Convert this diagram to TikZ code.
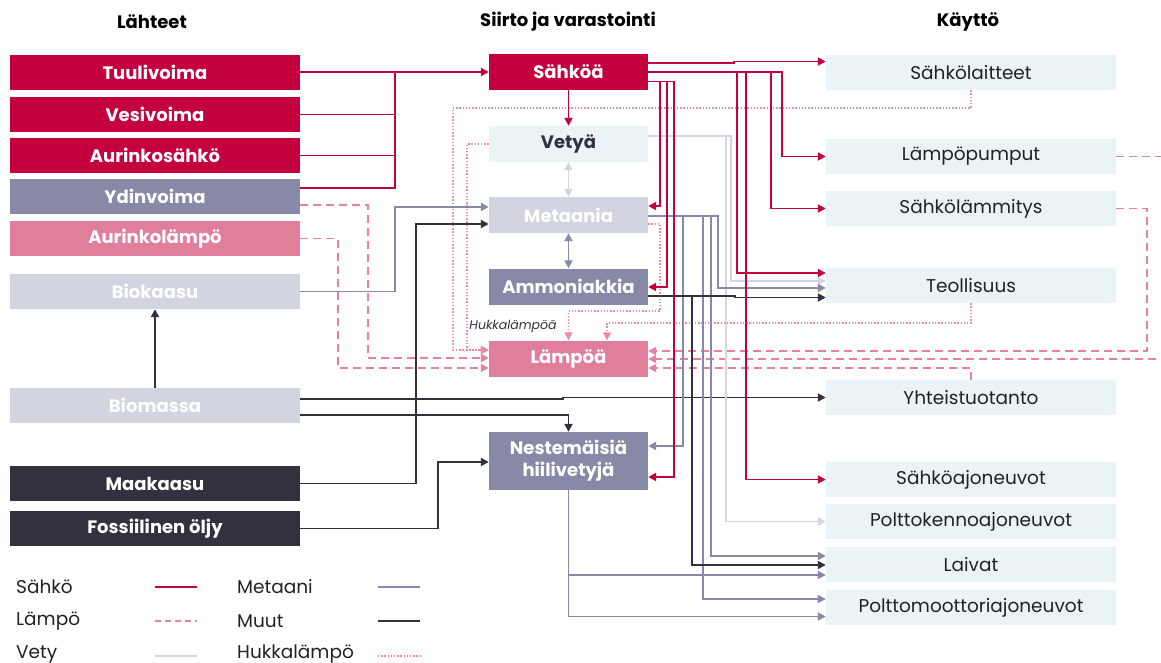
\documentclass[tikz,border=0pt]{standalone}
\usepackage{fontspec}
\setmainfont{Poppins}
\usetikzlibrary{arrows.meta}
\definecolor{crim}{HTML}{C5003E}
\definecolor{pinkbox}{HTML}{E07E9C}
\definecolor{pinkln}{HTML}{E8809F}
\definecolor{pinkw}{HTML}{EE8AA8}
\definecolor{meth}{HTML}{8789A6}
\definecolor{lgray}{HTML}{D2D4DF}
\definecolor{darkc}{HTML}{34303F}
\definecolor{lblue}{HTML}{EAF3F6}
\definecolor{txt}{HTML}{222222}
\begin{document}
\begin{tikzpicture}[x=1pt,y=-1pt,
  src/.style={rectangle,minimum width=290pt,minimum height=35pt,inner sep=0pt,text=white,font=\bfseries\fontsize{18}{21}\selectfont},
  mid/.style={rectangle,minimum width=159pt,minimum height=36pt,inner sep=0pt,text=white,font=\bfseries\fontsize{18}{21}\selectfont,align=center},
  usebox/.style={rectangle,fill=lblue,minimum width=290pt,minimum height=35pt,inner sep=0pt,text=txt,font=\fontsize{18.5}{21}\selectfont},
  hdr/.style={font=\bfseries\fontsize{18}{21}\selectfont,text=black},
  leg/.style={anchor=west,font=\fontsize{18.5}{21}\selectfont,text=txt,inner sep=0pt},
  tip/.style={-{Triangle[length=8pt,width=8pt]}},
  tips/.style={{Triangle[length=8pt,width=8pt]}-{Triangle[length=8pt,width=8pt]}},
  el/.style={draw=crim,line width=1.9pt},
  heat/.style={draw=pinkln,line width=1.9pt,dash pattern=on 8pt off 5pt},
  waste/.style={draw=pinkw,line width=1.6pt,dash pattern=on 1.4pt off 1.8pt},
  me/.style={draw=meth,line width=1.9pt},
  hy/.style={draw=lgray,line width=1.9pt},
  ot/.style={draw=darkc,line width=1.9pt},
]
\useasboundingbox (0,0) rectangle (1161,663);
\clip (0,0) rectangle (1161,663);

% headers
\node[hdr] (h1) at (152,22) {Lähteet};
\node[hdr] (h2) at (568,22) {Siirto ja varastointi};
\node[hdr] (h3) at (968,22) {Käyttö};

% sources
\node[src,fill=crim] (tuuli) at (155,72.5) {Tuulivoima};
\node[src,fill=crim] (vesi) at (155,114.5) {Vesivoima};
\node[src,fill=crim] (aur) at (155,155.5) {Aurinkosähkö};
\node[src,fill=meth] (ydin) at (155,196.5) {Ydinvoima};
\node[src,fill=pinkbox] (aurl) at (155,238.5) {Aurinkolämpö};
\node[src,fill=lgray] (biok) at (155,291.5) {Biokaasu};
\node[src,fill=lgray] (biom) at (155,405.5) {Biomassa};
\node[src,fill=darkc] (maak) at (155,483.5) {Maakaasu};
\node[src,fill=darkc] (oljy) at (155,528.5) {Fossiilinen öljy};

% middle
\node[mid,fill=crim] (sahko) at (568.5,72) {Sähköä};
\node[mid,fill=lblue,text=darkc] (vety) at (568.5,144) {Vetyä};
\node[mid,fill=lgray] (metaani) at (568.5,215) {Metaania};
\node[mid,fill=meth] (ammon) at (568.5,286.5) {Ammoniakkia};
\node[mid,fill=pinkbox] (lampo) at (568.5,358.5) {Lämpöä};
\node[mid,fill=meth,minimum height=58pt,font=\bfseries\fontsize{18}{22}\selectfont] (neste) at (568.5,461) {Nestemäisiä\\hiilivetyjä};

% uses
\node[usebox] (laitteet) at (971,72.5) {Sähkölaitteet};
\node[usebox] (pumput) at (971,156.5) {Lämpöpumput};
\node[usebox] (lammitys) at (971,208.5) {Sähkölämmitys};
\node[usebox] (teoll) at (971,285.5) {Teollisuus};
\node[usebox] (yhteis) at (971,397.5) {Yhteistuotanto};
\node[usebox] (sajo) at (971,479.5) {Sähköajoneuvot};
\node[usebox] (kenno) at (971,521.5) {Polttokennoajoneuvot};
\node[usebox] (laivat) at (971,564.5) {Laivat};
\node[usebox] (poltto) at (971,607.5) {Polttomoottoriajoneuvot};

\node[font=\itshape\fontsize{12.5}{14}\selectfont,text=darkc,inner sep=0pt] (hukl) at (513,326) {Hukkalämpöä};

% waste heat (dotted)
\draw[waste,tip] (laitteet.south) -- (971,108) -| (453,350) -- (lampo.west |- 0,350);
\draw[waste,tip] (vety.west) -| (467,350) -- (lampo.west |- 0,350);
\draw[waste,tip] (metaani.east |- 0,224) -| (660,311) -| (lampo.north);
\draw[waste,tip] (teoll.south) |- (607,323) -- (lampo.north -| 607,0);

% heat (dashed)
\draw[heat,tip] (ydin.east |- 0,205) -| (368,358) -- (lampo.west |- 0,358);
\draw[heat,tip] (aurl.east) -| (338,368) -- (lampo.west |- 0,368);
\draw[heat,tip] (pumput.east) -- (1165,156.5) -- (1165,359) -- (lampo.east |- 0,359);
\draw[heat,tip] (lammitys.east) -| (1147,351) -- (lampo.east |- 0,351);
\draw[heat,tip] (yhteis.north) |- (lampo.east |- 0,368);

% sources to electricity
\coordinate (jn) at (395,72);
\draw[el] (vesi.east) -| (jn);
\draw[el] (aur.east) -| (jn);
\draw[el] (ydin.east |- 0,188) -| (jn);
\draw[el,tip] (tuuli.east |- 0,72) -- (sahko.west);

% biogas, natural gas, oil
\draw[me,tip] (biok.east) -| (395,207) -- (metaani.west |- 0,207);
\draw[ot,tip] (maak.east) -| (416,224) -- (metaani.west |- 0,224);
\draw[ot,tip] (oljy.east) -| (438,462) -- (neste.west |- 0,462);
\draw[ot,tip] (biom.north) -- (biok.south);
\draw[ot,tip] (biom.east |- 0,415) -| (neste.north);
\draw[ot,tip] (biom.east |- 0,399) -- (563,399) -- (563,397.5) -- (yhteis.west |- 0,397.5);

% middle internal
\draw[el,tip] (sahko.south) -- (vety.north);
\draw[hy,tips] (vety.south) -- (metaani.north);
\draw[me,tips] (metaani.south) -- (ammon.north);

% hydrogen out
\draw[hy,tip] (vety.east |- 0,136) -- (731,136) |- (teoll.west |- 0,281);
\draw[hy,tip] (726,136) |- (kenno.west);

% methane out
\draw[me,tip] (metaani.east |- 0,216) -- (718,216) |- (teoll.west |- 0,288);
\draw[me,tip] (683,216) |- (neste.east |- 0,446);
\draw[me,tip] (711,216) |- (laivat.west |- 0,556);
\draw[me,tip] (703,216) |- (poltto.west |- 0,599);

% ammonia out
\draw[ot,tip] (ammon.east |- 0,296) -- (735,296) -- (735,297.5) -- (teoll.west |- 0,297.5);
\draw[ot,tip] (692,296) |- (laivat.west |- 0,565);

% liquid hydrocarbons out
\draw[me,tip] (neste.south) |- (laivat.west |- 0,575);
\draw[me,tip] (neste.south) |- (poltto.west |- 0,616.5);

% electricity out
\draw[el,tip] (sahko.east |- 0,63) -- (734,63) -- (734,61.5) -- (laitteet.west |- 0,61.5);
\draw[el,tip] (sahko.east |- 0,72) -- (782,72) |- (pumput.west);
\draw[el,tip] (771,72) |- (lammitys.west);
\draw[el,tip] (737,72) |- (teoll.west |- 0,273);
\draw[el,tip] (746,72) |- (sajo.west);
\draw[el,tip] (sahko.east |- 0,81.5) -- (674,81.5) |- (neste.east |- 0,477);
\draw[el,tip] (660,81.5) |- (metaani.east |- 0,206);
\draw[el,tip] (667,81.5) |- (ammon.east |- 0,287);

% legend
\node[leg] (l1) at (16,587) {Sähkö};
\node[leg] (l2) at (16,621) {Lämpö};
\node[leg] (l3) at (16,654) {Vety};
\node[leg] (l4) at (237,587) {Metaani};
\node[leg] (l5) at (237,621) {Muut};
\node[leg] (l6) at (237,654) {Hukkalämpö};
\draw[el] (155,587) -- (197,587);
\draw[heat,dash pattern=on 6pt off 4pt] (155,621) -- (197,621);
\draw[hy] (155,656) -- (197,656);
\draw[me] (378,587) -- (420,587);
\draw[ot] (378,621) -- (420,621);
\draw[waste] (378,656) -- (420,656);
\end{tikzpicture}
\end{document}
